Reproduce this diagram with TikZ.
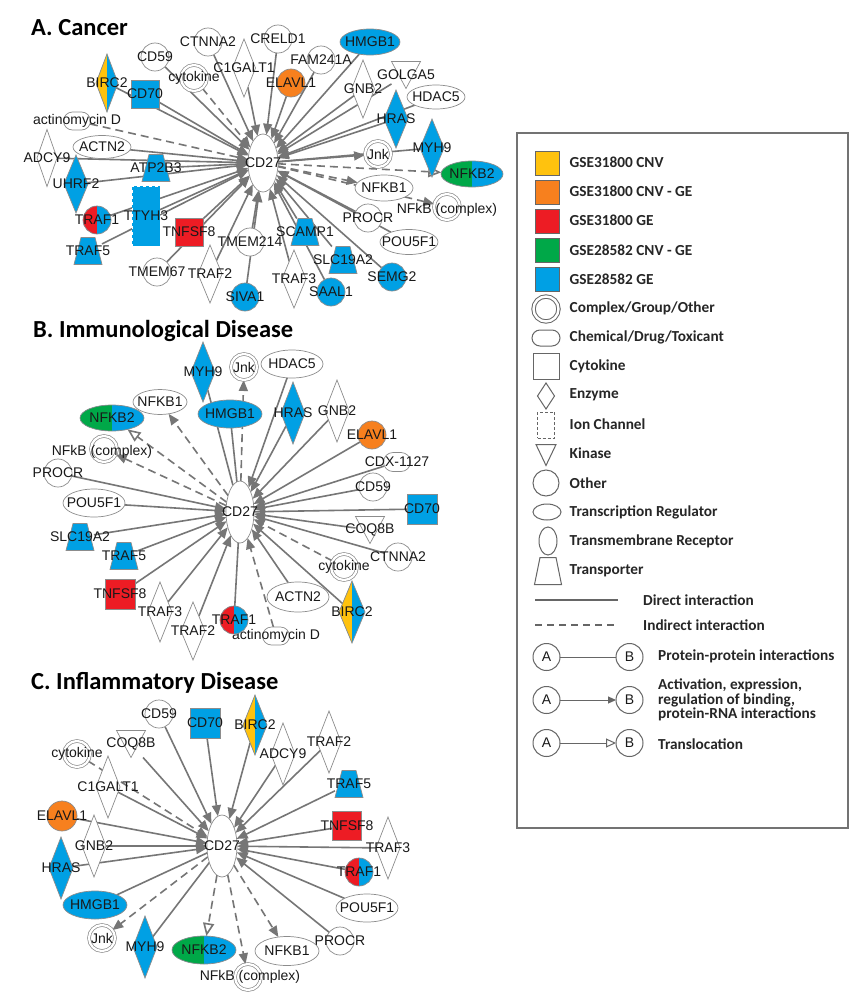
\documentclass[tikz,border=0pt]{standalone}
\usepackage{fontspec}
\setmainfont{Liberation Sans}
\newfontfamily\carl{Carlito}
\usetikzlibrary{shapes.geometric,shapes.misc,arrows.meta}
\pgfdeclarelayer{background}
\pgfsetlayers{background,main}
\definecolor{cblue}{RGB}{0,160,228}
\definecolor{corange}{RGB}{247,128,30}
\definecolor{cred}{RGB}{237,28,36}
\definecolor{cgreen}{RGB}{0,168,72}
\definecolor{cyellow}{RGB}{255,194,14}
\definecolor{egray}{RGB}{118,118,118}
\definecolor{ngray}{RGB}{140,140,140}
\newcommand\lblfont{\fontsize{14}{14}\selectfont}
\tikzset{
 nd/.style={draw=ngray, line width=0.7pt, fill=white, inner sep=0pt, outer sep=0pt},
 lab/.style={font=\lblfont, text=black!90, inner sep=0pt, outer sep=0pt},
 oth/.style={nd, circle, minimum size=28pt},
 cplx/.style={nd, circle, minimum size=26pt, double=white, double distance=2.2pt},
 treg/.style 2 args={nd, ellipse, minimum width=#1, minimum height=#2},
 enz/.style 2 args={nd, diamond, minimum width=#1, minimum height=#2},
 cyto/.style={nd, rectangle, minimum size=#1},
 ion/.style={nd, rectangle, minimum width=28pt, minimum height=60pt, dashed},
 chem/.style={nd, rounded rectangle, minimum width=27pt, minimum height=18pt},
 tmr/.style 2 args={nd, ellipse, minimum width=#1, minimum height=#2},
 hold/.style 2 args={inner sep=0pt, outer sep=0pt, minimum width=#1, minimum height=#2},
 split/.style 2 args={fill=#2, path picture={\fill[#1] (path picture bounding box.south west) rectangle (path picture bounding box.north);}},
 ed/.style={draw=egray, line width=1.6pt},
 ar/.style={ed, -{Triangle[length=11pt,width=9pt]}},
 dsh/.style={ed, dash pattern=on 8pt off 5pt},
 dar/.style={dsh, -{Triangle[length=11pt,width=9pt]}},
 tloc/.style={dsh, -{Triangle[length=13pt,width=11pt,fill=white]}},
 ttl/.style={font=\carl\bfseries\fontsize{24.5}{25}\selectfont, anchor=west, inner sep=0pt},
 leg/.style={font=\carl\bfseries\fontsize{15.3}{14.5}\selectfont, anchor=west, inner sep=0pt, text=black!85},
 lsh/.style={draw=black!60, line width=1pt, fill=white, inner sep=0pt, outer sep=0pt},
 led/.style={draw=black!60, line width=1pt},
}
% transporter: [fill] name x y label
\newcommand\trpnode[5][cblue]{%
 \node[hold={28pt}{27pt}] (#2) at (#3,#4) {};
 \draw[nd, fill=#1] ([xshift=-7pt]#2.north) -- ([xshift=7pt]#2.north) -- (#2.south east) -- (#2.south west) -- cycle;
 \node[lab] (#2l) at (#2) {#5};}
% kinase: name x y label
\newcommand\kinnode[4]{%
 \node[hold={29pt}{27pt}] (#1) at (#2,#3) {};
 \draw[nd] (#1.north west) -- (#1.north east) -- (#1.south) -- cycle;
 \node[lab] (#1l) at (#1) {#4};}
\begin{document}
\begin{tikzpicture}[x=1pt,y=-1pt]
\useasboundingbox (0,0) rectangle (864,1001);
\begin{pgfonlayer}{background}
\fill[white] (0,0) rectangle (864,1001);
\end{pgfonlayer}

% ================= Panel A =================
\node[ttl] (tA) at (31,28) {A. Cancer};
\node[tmr={30pt}{58pt}, label={[lab]center:CD27}] (aCD27) at (263,163) {};
\node[oth, label={[lab]center:CTNNA2}] (aCTNNA2) at (208,42) {};
\node[oth, label={[lab]center:CD59}] (aCD59) at (155,57) {};
\node[enz={22pt}{58pt}, split={cyellow}{cblue}, label={[lab]center:BIRC2}] (aBIRC2) at (107,83) {};
\node[cyto=28pt, fill=cblue, label={[lab]center:CD70}] (aCD70) at (145,94) {};
\node[cplx, label={[lab]center:cytokine}] (acyt) at (194,78) {};
\node[enz={23pt}{58pt}, label={[lab]center:C1GALT1}] (aC1GALT1) at (244,68) {};
\node[oth, label={[lab]center:CRELD1}] (aCRELD1) at (278,39) {};
\node[oth, fill=corange, label={[lab]center:ELAVL1}] (aELAVL1) at (291,83) {};
\node[oth, label={[lab]center:FAM241A}] (aFAM) at (321,60) {};
\node[treg={60pt}{26pt}, fill=cblue, label={[lab]center:HMGB1}] (aHMGB1) at (370,42) {};
\node[enz={23pt}{58pt}, label={[lab]center:GNB2}] (aGNB2) at (363,89) {};
\kinnode{aGOLGA5}{406}{75}{GOLGA5}
\node[treg={58pt}{24pt}, label={[lab]center:HDAC5}] (aHDAC5) at (436,97) {};
\node[enz={24pt}{58pt}, fill=cblue, label={[lab]center:HRAS}] (aHRAS) at (396,119) {};
\node[enz={24pt}{58pt}, fill=cblue, label={[lab]center:MYH9}] (aMYH9) at (432,148) {};
\node[cplx, label={[lab]center:Jnk}] (aJnk) at (378,154) {};
\node[treg={62pt}{26pt}, split={cgreen}{cblue}, label={[lab]center:NFKB2}] (aNFKB2) at (472,174) {};
\node[treg={58pt}{26pt}, label={[lab]center:NFKB1}] (aNFKB1) at (384,188) {};
\node[cplx] (aNFkB) at (447,207) {};
\node[lab] (aNFkBl) at (447,210) {NFkB (complex)};
\node[oth, label={[lab]center:PROCR}] (aPROCR) at (368,218) {};
\node[treg={58pt}{25pt}, label={[lab]center:POU5F1}] (aPOU5F1) at (409,242) {};
\node[oth, fill=cblue, label={[lab]center:SEMG2}] (aSEMG2) at (392,277) {};
\trpnode{aSLC19A2}{343}{260}{SLC19A2}
\node[oth, fill=cblue, label={[lab]center:SAAL1}] (aSAAL1) at (331,292) {};
\trpnode{aSCAMP1}{305}{232}{SCAMP1}
\node[enz={24pt}{58pt}, label={[lab]center:TRAF3}] (aTRAF3) at (294,279) {};
\node[oth, label={[lab]center:TMEM214}] (aTMEM214) at (250,242) {};
\node[oth, fill=cblue, label={[lab]center:SIVA1}] (aSIVA1) at (245,297) {};
\node[enz={24pt}{58pt}, label={[lab]center:TRAF2}] (aTRAF2) at (210,274) {};
\node[oth, label={[lab]center:TMEM67}] (aTMEM67) at (157,272) {};
\node[cyto=28pt, fill=cred, label={[lab]center:TNFSF8}] (aTNFSF8) at (189,232) {};
\node[ion, fill=cblue, draw=white, label={[lab]center:TTYH3}] (aTTYH3) at (146,216) {};
\node[oth, split={cred}{cblue}, label={[lab]center:TRAF1}] (aTRAF1) at (97,220) {};
\trpnode{aTRAF5}{88}{251}{TRAF5}
\node[enz={24pt}{58pt}, fill=cblue, label={[lab]center:UHRF2}] (aUHRF2) at (76,184) {};
\trpnode{aATP2B3}{156}{168}{ATP2B3}
\node[enz={20pt}{57pt}, label={[lab]center:ADCY9}] (aADCY9) at (47,158) {};
\node[treg={58pt}{23pt}, label={[lab]center:ACTN2}] (aACTN2) at (102,147) {};
\node[chem, label={[lab]center:actinomycin D}] (aact) at (77,121) {};

\begin{pgfonlayer}{background}
\foreach \n in {aCTNNA2,aCD59,aBIRC2,aCD70,aC1GALT1,aCRELD1,aELAVL1,aFAM,aHMGB1,aGNB2,aGOLGA5,aHDAC5,aHRAS,aACTN2,aADCY9,aUHRF2,aATP2B3,aTTYH3,aTRAF1,aTRAF5,aTNFSF8,aTMEM67,aTRAF2,aTMEM214,aSIVA1,aTRAF3,aSCAMP1,aSAAL1,aSLC19A2,aSEMG2,aPOU5F1,aPROCR}
  \draw[ar] (\n) -- (aCD27);
\foreach \n in {acyt,aact} \draw[dar] (\n) -- (aCD27);
\draw[ar] (aCD27) -- (aJnk);
\draw[ed] (aCD27) -- (aMYH9);
\draw[tloc] (aCD27) -- (aNFKB2);
\draw[dar] (aCD27) -- (aNFKB1);
\draw[dar] (aCD27) -- (aNFkB);
\end{pgfonlayer}

% ================= Panel B =================
\node[ttl] (tB) at (33,331) {B. Immunological Disease};
\node[tmr={28pt}{62pt}, label={[lab]center:CD27}] (bCD27) at (240,512) {};
\node[enz={24pt}{60pt}, fill=cblue, label={[lab]center:MYH9}] (bMYH9) at (203,372) {};
\node[cplx, label={[lab]center:Jnk}] (bJnk) at (244,367) {};
\node[treg={62pt}{28pt}, label={[lab]center:HDAC5}] (bHDAC5) at (292,364) {};
\node[treg={54pt}{25pt}, label={[lab]center:NFKB1}] (bNFKB1) at (160,402) {};
\node[treg={64pt}{28pt}, fill=cblue, label={[lab]center:HMGB1}] (bHMGB1) at (230,414) {};
\node[enz={24pt}{62pt}, fill=cblue, label={[lab]center:HRAS}] (bHRAS) at (293,413) {};
\node[enz={24pt}{62pt}, label={[lab]center:GNB2}] (bGNB2) at (337,411) {};
\node[oth, fill=corange, label={[lab]center:ELAVL1}] (bELAVL1) at (372,435) {};
\node[chem, minimum height=19pt, label={[lab]center:CDX-1127}] (bCDX) at (397,462) {};
\node[oth, label={[lab]center:CD59}] (bCD59) at (373,487) {};
\node[cyto=30pt, fill=cblue, label={[lab]center:CD70}] (bCD70) at (422,509) {};
\kinnode{bCOQ8B}{370}{530}{COQ8B}
\node[oth, label={[lab]center:CTNNA2}] (bCTNNA2) at (398,557) {};
\node[cplx, label={[lab]center:cytokine}] (bcyt) at (344,567) {};
\node[treg={62pt}{30pt}, label={[lab]center:ACTN2}] (bACTN2) at (298,597) {};
\node[enz={26pt}{62pt}, split={cyellow}{cblue}, label={[lab]center:BIRC2}] (bBIRC2) at (352,612) {};
\node[chem, label={[lab]center:actinomycin D}] (bact) at (276,636) {};
\node[oth, split={cred}{cblue}, label={[lab]center:TRAF1}] (bTRAF1) at (234,620) {};
\node[enz={24pt}{58pt}, label={[lab]center:TRAF2}] (bTRAF2) at (193,631) {};
\node[enz={24pt}{60pt}, label={[lab]center:TRAF3}] (bTRAF3) at (160,612) {};
\node[cyto=30pt, fill=cred, label={[lab]center:TNFSF8}] (bTNFSF8) at (120,594) {};
\trpnode{bTRAF5}{124}{556}{TRAF5}
\trpnode{bSLC19A2}{80}{537}{SLC19A2}
\node[treg={62pt}{28pt}, label={[lab]center:POU5F1}] (bPOU5F1) at (94,503) {};
\node[oth, label={[lab]center:PROCR}] (bPROCR) at (58,473) {};
\node[cplx] (bNFkB) at (104,449) {};
\node[lab] (bNFkBl) at (102,452) {NFkB (complex)};
\node[treg={64pt}{26pt}, split={cgreen}{cblue}, label={[lab]center:NFKB2}] (bNFKB2) at (112,418) {};

\begin{pgfonlayer}{background}
\foreach \n in {bHDAC5,bHRAS,bGNB2,bELAVL1,bCDX,bCD59,bCOQ8B,bCTNNA2,bBIRC2,bACTN2,bTRAF2,bTRAF3,bTNFSF8,bTRAF5,bSLC19A2,bPOU5F1,bPROCR}
  \draw[ar] (\n) -- (bCD27);
\foreach \n in {bMYH9,bHMGB1,bTRAF1,bCD70} \draw[ed] (\n) -- (bCD27);
\foreach \n in {bcyt,bact} \draw[dar] (\n) -- (bCD27);
\draw[dar] (bCD27) -- (bJnk);
\draw[dar] (bCD27) -- (bNFKB1);
\draw[dar] (bCD27) -- (bNFkB);
\draw[tloc] (bCD27) -- (bNFKB2);
\end{pgfonlayer}

% ================= Panel C =================
\node[ttl] (tC) at (31,683) {C. Inflammatory Disease};
\node[tmr={30pt}{62pt}, label={[lab]center:CD27}] (cCD27) at (222,846) {};
\node[oth, label={[lab]center:CD59}] (cCD59) at (159,714) {};
\node[cyto=30pt, fill=cblue, label={[lab]center:CD70}] (cCD70) at (205,723) {};
\node[enz={24pt}{60pt}, split={cyellow}{cblue}, label={[lab]center:BIRC2}] (cBIRC2) at (255,725) {};
\node[enz={24pt}{62pt}, label={[lab]center:ADCY9}] (cADCY9) at (283,754) {};
\node[enz={24pt}{62pt}, label={[lab]center:TRAF2}] (cTRAF2) at (329,742) {};
\trpnode{cTRAF5}{349}{784}{TRAF5}
\node[cyto=29pt, fill=cred, label={[lab]center:TNFSF8}] (cTNFSF8) at (347,826) {};
\node[enz={24pt}{62pt}, label={[lab]center:TRAF3}] (cTRAF3) at (388,848) {};
\node[oth, split={cred}{cblue}, label={[lab]center:TRAF1}] (cTRAF1) at (359,872) {};
\node[treg={62pt}{28pt}, label={[lab]center:POU5F1}] (cPOU5F1) at (367,908) {};
\node[oth, label={[lab]center:PROCR}] (cPROCR) at (340,941) {};
\node[treg={64pt}{29pt}, label={[lab]center:NFKB1}] (cNFKB1) at (287,951) {};
\node[cplx] (cNFkB) at (248,977) {};
\node[lab] (cNFkBl) at (250,977) {NFkB (complex)};
\node[treg={64pt}{28pt}, split={cgreen}{cblue}, label={[lab]center:NFKB2}] (cNFKB2) at (204,950) {};
\node[enz={24pt}{62pt}, fill=cblue, label={[lab]center:MYH9}] (cMYH9) at (145,947) {};
\node[cplx, label={[lab]center:Jnk}] (cJnk) at (102,938) {};
\node[treg={64pt}{28pt}, fill=cblue, label={[lab]center:HMGB1}] (cHMGB1) at (95,905) {};
\node[enz={24pt}{62pt}, fill=cblue, label={[lab]center:HRAS}] (cHRAS) at (61,868) {};
\node[enz={24pt}{62pt}, label={[lab]center:GNB2}] (cGNB2) at (94,846) {};
\node[oth, minimum size=30pt, fill=corange, label={[lab]center:ELAVL1}] (cELAVL1) at (62,816) {};
\node[enz={24pt}{62pt}, label={[lab]center:C1GALT1}] (cC1GALT1) at (108,787) {};
\node[cplx, label={[lab]center:cytokine}] (ccyt) at (77,754) {};
\kinnode{cCOQ8B}{131}{744}{COQ8B}

\begin{pgfonlayer}{background}
\foreach \n in {cCD59,cCOQ8B,cCD70,cBIRC2,cADCY9,cTRAF2,cTRAF5,cTNFSF8,cTRAF3,cTRAF1,cPOU5F1,cPROCR,cELAVL1,cGNB2,cHRAS,cC1GALT1}
  \draw[ar] (\n) -- (cCD27);
\foreach \n in {cHMGB1,cMYH9} \draw[ed] (\n) -- (cCD27);
\draw[dar] (ccyt) -- (cCD27);
\draw[dar] (cCD27) -- (cJnk);
\draw[dar] (cCD27) -- (cNFkB);
\draw[dar] (cCD27) -- (cNFKB1);
\draw[tloc] (cCD27) -- (cNFKB2);
\end{pgfonlayer}

% ================= Legend =================
\draw[line width=1.4pt, draw=black!55] (517,133) rectangle (848,828);
\node[lsh, minimum size=24pt, fill=cyellow] (l1) at (547,163) {};
\node[leg] (l1t) at (569.5,162) {GSE31800 CNV};
\node[lsh, minimum size=24pt, fill=corange] (l2) at (547,192) {};
\node[leg] (l2t) at (569.5,191.5) {GSE31800 CNV - GE};
\node[lsh, minimum size=24pt, fill=cred] (l3) at (547,221) {};
\node[leg] (l3t) at (569.5,220.5) {GSE31800 GE};
\node[lsh, minimum size=24pt, fill=cgreen] (l4) at (547,250) {};
\node[leg] (l4t) at (569.5,250) {GSE28582 CNV - GE};
\node[lsh, minimum size=24pt, fill=cblue] (l5) at (547,279) {};
\node[leg] (l5t) at (569.5,279) {GSE28582 GE};
\node[lsh, circle, minimum size=25pt, double=white, double distance=2.4pt] (l6) at (546,309) {};
\node[leg] (l6t) at (569.5,308) {Complex/Group/Other};
\node[lsh, rounded rectangle, minimum width=28pt, minimum height=16pt] (l7) at (546,338) {};
\node[leg] (l7t) at (569.5,337) {Chemical/Drug/Toxicant};
\node[lsh, minimum size=26pt] (l8) at (546,366) {};
\node[leg] (l8t) at (569.5,366) {Cytokine};
\node[lsh, diamond, minimum width=17pt, minimum height=26pt] (l9) at (546,396) {};
\node[leg] (l9t) at (569.5,395) {Enzyme};
\node[lsh, minimum width=17pt, minimum height=26pt, densely dashed] (l10) at (546,425) {};
\node[leg] (l10t) at (569.5,424.5) {Ion Channel};
\node[hold={20pt}{21pt}] (l11) at (546,455) {};
\draw[lsh] (l11.north west) -- (l11.north east) -- (l11.south) -- cycle;
\node[leg] (l11t) at (569.5,453.5) {Kinase};
\node[lsh, circle, minimum size=26pt] (l12) at (546,483) {};
\node[leg] (l12t) at (569.5,483) {Other};
\node[lsh, ellipse, minimum width=28pt, minimum height=16pt] (l13) at (547,512) {};
\node[leg] (l13t) at (569.5,512) {Transcription Regulator};
\node[lsh, ellipse, minimum width=18pt, minimum height=28pt] (l14) at (548,541) {};
\node[leg] (l14t) at (569.5,541.5) {Transmembrane Receptor};
\node[hold={27pt}{27pt}] (l15) at (548,571) {};
\draw[lsh] ([xshift=-8pt]l15.north) -- ([xshift=8pt]l15.north) -- (l15.south east) -- (l15.south west) -- cycle;
\node[leg] (l15t) at (569.5,570.5) {Transporter};
\coordinate (d1a) at (535,600); \coordinate (d1b) at (618,600);
\draw[led, line width=1.3pt] (d1a) -- (d1b);
\node[leg] (d1t) at (643,600) {Direct interaction};
\coordinate (d2a) at (535,625); \coordinate (d2b) at (618,625);
\draw[led, line width=1.3pt, dash pattern=on 7pt off 5pt] (d2a) -- (d2b);
\node[leg] (d2t) at (643,625) {Indirect interaction};
\node[lsh, circle, minimum size=27pt, label={[lab]center:A}] (pA1) at (546.5,657) {};
\node[lsh, circle, minimum size=27pt, label={[lab]center:B}] (pB1) at (629.5,657) {};
\draw[led] (pA1) -- (pB1);
\node[leg] (p1t) at (658,656) {Protein-protein interactions};
\node[lsh, circle, minimum size=27pt, label={[lab]center:A}] (pA2) at (546.5,700) {};
\node[lsh, circle, minimum size=27pt, label={[lab]center:B}] (pB2) at (629.5,700) {};
\draw[led, -{Triangle[length=8pt,width=7pt]}] (pA2) -- (pB2);
\node[leg, align=left] (p2t) at (658,700) {Activation, expression,\\regulation of binding,\\protein-RNA interactions};
\node[lsh, circle, minimum size=27pt, label={[lab]center:A}] (pA3) at (546.5,743) {};
\node[lsh, circle, minimum size=27pt, label={[lab]center:B}] (pB3) at (629.5,743) {};
\draw[led, -{Triangle[length=10pt,width=9pt,fill=white]}] (pA3) -- (pB3);
\node[leg] (p3t) at (658,744) {Translocation};
\end{tikzpicture}
\end{document}
